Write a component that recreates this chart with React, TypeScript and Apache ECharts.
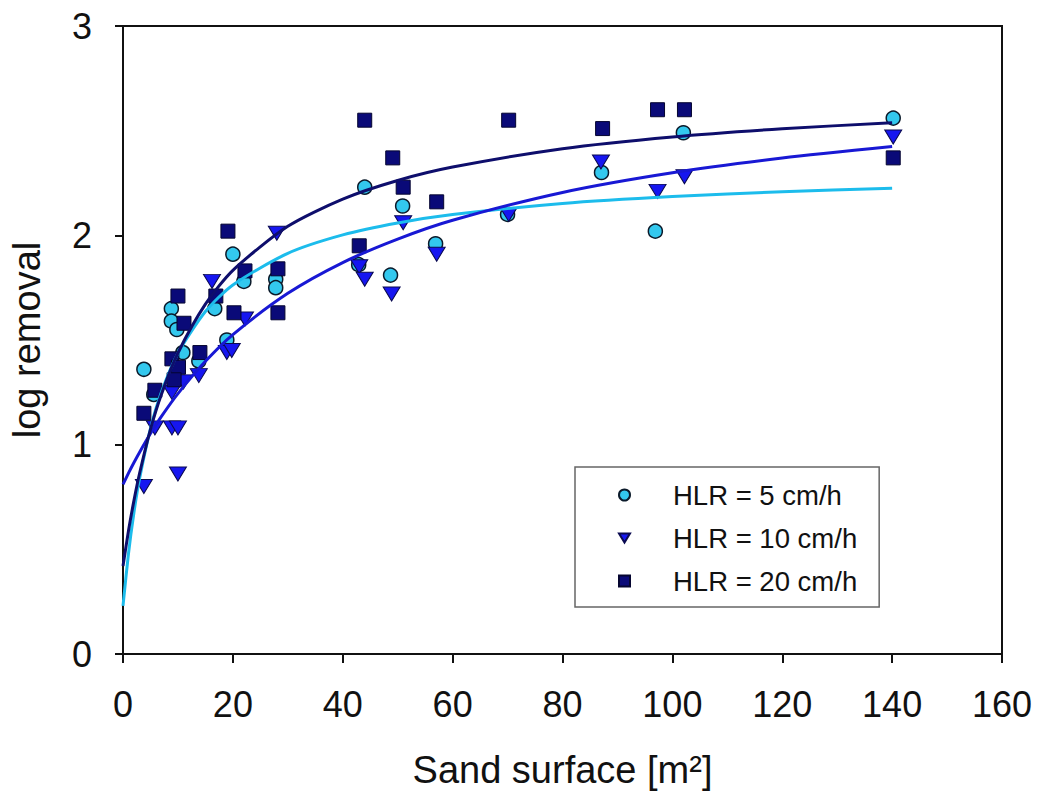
import React, { useEffect, useRef } from "react";
import * as echarts from "echarts";

const hlr5X = [3.8, 5.6, 8.8, 8.8, 9.8, 10.9, 13.8, 16.7, 18.9, 20, 22, 27.8, 27.8, 44, 50.9, 42.9, 48.7, 56.9, 70, 87.1, 96.9, 102, 140.2];
const hlr5Y = [1.36, 1.24, 1.65, 1.59, 1.55, 1.44, 1.40, 1.65, 1.50, 1.91, 1.78, 1.79, 1.75, 2.23, 2.14, 1.86, 1.81, 1.96, 2.10, 2.30, 2.02, 2.49, 2.56];

const hlr10X = [3.8, 5.8, 8.9, 10, 10, 8.9, 11, 13.8, 18.9, 19.8, 16.2, 22.2, 28, 43, 44, 51, 48.9, 57.1, 70.2, 87, 97.3, 102.2, 140.2];
const hlr10Y = [0.80, 1.08, 1.08, 1.08, 0.86, 1.25, 1.30, 1.33, 1.44, 1.45, 1.78, 1.60, 2.01, 1.85, 1.79, 2.06, 1.72, 1.91, 2.10, 2.35, 2.21, 2.28, 2.47];

const hlr20X = [3.8, 5.8, 8.9, 10.1, 9.3, 10, 11.1, 14, 16.9, 19.1, 20.2, 22.2, 28.2, 28.2, 44, 49.1, 51, 57.1, 43, 70.2, 87.3, 97.3, 102.2, 140.2];
const hlr20Y = [1.15, 1.26, 1.41, 1.37, 1.31, 1.71, 1.58, 1.44, 1.71, 2.02, 1.63, 1.83, 1.84, 1.63, 2.55, 2.37, 2.23, 2.16, 1.95, 2.55, 2.51, 2.60, 2.60, 2.37];

const fitX = [0, 1, 2, 3, 5, 7, 10, 15, 20, 30, 40, 50, 60, 80, 100, 120, 140];
const fit5Y = [0.230, 0.480, 0.677, 0.836, 1.077, 1.251, 1.437, 1.636, 1.763, 1.914, 2.002, 2.059, 2.099, 2.152, 2.185, 2.208, 2.225];
const fit10Y = [0.810, 0.864, 0.915, 0.963, 1.053, 1.135, 1.244, 1.398, 1.526, 1.723, 1.870, 1.982, 2.072, 2.205, 2.299, 2.369, 2.424];
const fit20Y = [0.420, 0.589, 0.734, 0.861, 1.073, 1.241, 1.438, 1.671, 1.833, 2.043, 2.173, 2.262, 2.326, 2.414, 2.470, 2.509, 2.538];

const seriesNames = ["HLR = 5 cm/h", "HLR = 10 cm/h", "HLR = 20 cm/h"];
const xTicks = [0, 20, 40, 60, 80, 100, 120, 140, 160];
const yTicks = [0, 1, 2, 3];

const FONT = 'Arial, "Liberation Sans", sans-serif';

const zip = (xs: number[], ys: number[]) => xs.map((x, i) => [x, ys[i]]);

export default function App() {
  const ref = useRef<HTMLDivElement>(null);
  useEffect(() => {
    document.body.style.margin = "0";
    const chart = echarts.init(ref.current!, null, { renderer: "svg" });
    const lineStyleBase = { width: 3 };
    const lineCommon = {
      type: "line",
      showSymbol: false,
      smooth: 0.25,
      z: 4,
    };
    chart.setOption({
      animation: false,
      backgroundColor: "#ffffff",
      textStyle: { fontFamily: FONT },
      grid: {
        left: 121,
        top: 26,
        right: 40,
        bottom: 142,
        show: true,
        borderColor: "#111",
        borderWidth: 2,
        backgroundColor: "transparent",
      },
      legend: {
        data: [
          { name: seriesNames[0], icon: "circle" },
          { name: seriesNames[1], icon: "path://M0,0 L12,0 L6,10 Z" },
          { name: seriesNames[2], icon: "rect" },
        ],
        orient: "vertical",
        left: 575,
        top: 467,
        padding: [14, 22, 12, 43],
        itemGap: 15,
        itemWidth: 11,
        itemHeight: 11,
        borderColor: "#666",
        borderWidth: 1.5,
        backgroundColor: "#fff",
        textStyle: {
          fontFamily: FONT,
          fontSize: 27.5,
          color: "#111",
          lineHeight: 24,
          padding: [0, 0, 0, 38],
        },
      },
      xAxis: {
        type: "value",
        min: 0,
        max: 160,
        interval: 20,
        name: "Sand surface [m²]",
        nameLocation: "middle",
        nameGap: 97,
        nameTextStyle: { fontFamily: FONT, fontSize: 38, color: "#111" },
        axisLine: { show: true, onZero: false, lineStyle: { color: "#111", width: 2 } },
        axisTick: { show: true, inside: false, length: 9, lineStyle: { color: "#111", width: 2 } },
        axisLabel: {
          fontFamily: FONT,
          fontSize: 36,
          color: "#111",
          margin: 32,
          formatter: (v: number) => (xTicks.includes(v) ? String(v) : ""),
        },
        splitLine: { show: false },
      },
      yAxis: {
        type: "value",
        min: 0,
        max: 3,
        interval: 1,
        name: "log removal",
        nameLocation: "middle",
        nameGap: 77,
        nameTextStyle: { fontFamily: FONT, fontSize: 38, color: "#111" },
        axisLine: { show: true, onZero: false, lineStyle: { color: "#111", width: 2 } },
        axisTick: { show: true, inside: false, length: 8, lineStyle: { color: "#111", width: 2 } },
        axisLabel: {
          fontFamily: FONT,
          fontSize: 36,
          color: "#111",
          margin: 31,
          formatter: (v: number) => (yTicks.includes(v) ? String(v) : ""),
        },
        splitLine: { show: false },
      },
      series: [
        {
          name: seriesNames[0],
          type: "scatter",
          symbol: "circle",
          symbolSize: 14,
          data: zip(hlr5X, hlr5Y),
          itemStyle: { color: "#33c8ee", borderColor: "#0b1a2a", borderWidth: 1.5, opacity: 1 },
          z: 3,
        },
        {
          name: seriesNames[1],
          type: "scatter",
          symbol: "triangle",
          symbolRotate: 180,
          symbolSize: [17, 14],
          data: zip(hlr10X, hlr10Y),
          itemStyle: { color: "#1616f0", borderColor: "#0a0a50", borderWidth: 1, opacity: 1 },
          z: 3,
        },
        {
          name: seriesNames[2],
          type: "scatter",
          symbol: "rect",
          symbolSize: 14,
          data: zip(hlr20X, hlr20Y),
          itemStyle: { color: "#0a0a78", borderColor: "#050530", borderWidth: 1, opacity: 1 },
          z: 3,
        },
        {
          ...lineCommon,
          name: "fit5",
          data: zip(fitX, fit5Y),
          lineStyle: { ...lineStyleBase, color: "#1cbcec" },
          itemStyle: { color: "#1cbcec" },
        },
        {
          ...lineCommon,
          name: "fit10",
          data: zip(fitX, fit10Y),
          lineStyle: { ...lineStyleBase, color: "#1818d4" },
          itemStyle: { color: "#1818d4" },
        },
        {
          ...lineCommon,
          name: "fit20",
          data: zip(fitX, fit20Y),
          lineStyle: { ...lineStyleBase, color: "#0e0e6c" },
          itemStyle: { color: "#0e0e6c" },
        },
      ],
    });
    return () => chart.dispose();
  }, []);
  return <div ref={ref} style={{ width: 1042, height: 796 }} />;
}
